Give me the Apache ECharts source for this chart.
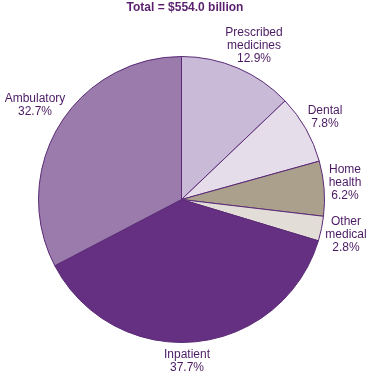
<!DOCTYPE html>
<html><head><meta charset="utf-8">
<script src="https://cdn.jsdelivr.net/npm/echarts@6/dist/echarts.min.js"></script>
<style>html,body{margin:0;padding:0;background:#fff}#c{width:371px;height:376px}</style>
</head><body><div id="c"></div>
<script>
const categories = ["Prescribed\nmedicines", "Dental", "Home\nhealth", "Other\nmedical", "Inpatient", "Ambulatory"];
const shares = [12.9, 7.8, 6.2, 2.8, 37.7, 32.7];
const colors = ["#c9bad7", "#e5dde9", "#aba08c", "#e3ddd7", "#663082", "#9a7bac"];
const title = "Total = $554.0 billion";
const labelPos = [[254, 46], [325, 117], [345, 183], [346, 235], [187, 361], [35, 105]];

const chart = echarts.init(document.getElementById('c'), null, {renderer: 'canvas'});
chart.setOption({
  animation: false,
  graphic: categories.map((c, i) => ({
    type: 'text', x: labelPos[i][0], y: labelPos[i][1],
    style: {text: c + '\n' + shares[i].toFixed(1) + '%', align: 'center', verticalAlign: 'middle',
      font: '12px "Liberation Sans"', lineHeight: 13, fill: '#4b1a63'}
  })).concat([{type: 'text', x: 185, y: 8,
    style: {text: title, align: 'center', verticalAlign: 'middle', font: 'bold 12px "Liberation Sans"', fill: '#5a1f6e'}}]),
  series: [{
    type: 'pie',
    center: [181.5, 199.5],
    radius: [0, 143],
    startAngle: 90,
    clockwise: true,
    data: categories.map((c, i) => ({name: c, value: shares[i], itemStyle: {color: colors[i]}})),
    itemStyle: {borderColor: '#5a2a76', borderWidth: 1},
    label: {show: false},
    labelLine: {show: false},
    emphasis: {disabled: true}
  }]
});
</script></body></html>
